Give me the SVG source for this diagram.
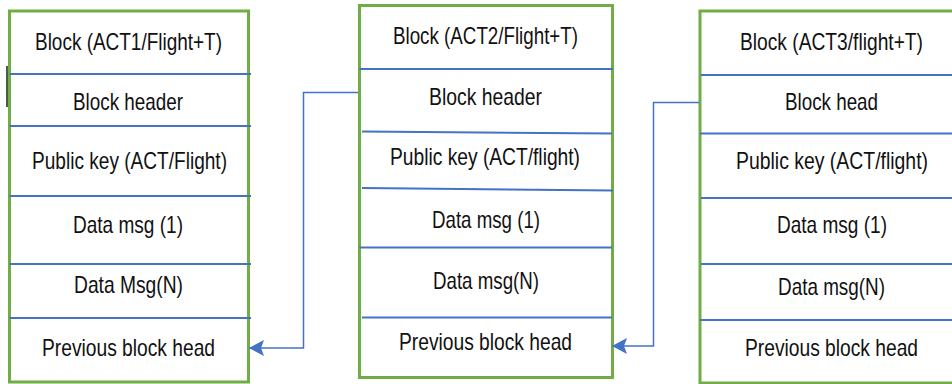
<svg xmlns="http://www.w3.org/2000/svg" width="952" height="384" viewBox="0 0 952 384">
  <style>
    .frame { fill: #ffffff; stroke: #70ad47; stroke-width: 3; }
    .edge { fill: none; stroke: #70ad47; stroke-width: 3; }
    .div { stroke: #4472c4; stroke-width: 2; fill: none; }
    .conn { stroke: #4472c4; stroke-width: 1.5; fill: none; }
    .lbl { font-family: "Liberation Sans", Arial, sans-serif; font-size: 24px; fill: #111111; text-anchor: middle; }
  </style>
  <defs>
    <!-- solid arrowhead, drawn pointing along +x so orient="auto" follows the path -->
    <marker id="arrow" viewBox="0 0 15 16" refX="14.5" refY="8" markerWidth="15" markerHeight="16" markerUnits="userSpaceOnUse" orient="auto">
      <path d="M15,8 L0,0 L3,8 L0,16 Z" fill="#4472c4"/>
    </marker>
  </defs>

  <rect width="952" height="384" fill="#ffffff"/>

  <!-- Labels use a condensed look: each is squeezed to 80% width around its centre -->

  <!-- Block 1 -->
  <g id="block1">
    <rect class="frame" x="9.5" y="11" width="239" height="371"/>
    <line x1="7" y1="66" x2="7" y2="107" stroke="#4d5a45" stroke-width="2"/>
    <line class="div" x1="9.5" y1="74" x2="251" y2="74"/>
    <line class="div" x1="9.5" y1="126" x2="251" y2="126"/>
    <line class="div" x1="9.5" y1="196" x2="251" y2="196"/>
    <line class="div" x1="9.5" y1="264" x2="251" y2="264"/>
    <line class="div" x1="9.5" y1="318" x2="251" y2="318"/>
    <text class="lbl" transform="translate(128.5 50) scale(0.8 1)" textLength="233.75" lengthAdjust="spacingAndGlyphs">Block (ACT1/Flight+T)</text>
    <text class="lbl" transform="translate(128 110) scale(0.8 1)" textLength="137.5" lengthAdjust="spacingAndGlyphs">Block header</text>
    <text class="lbl" transform="translate(129.5 169) scale(0.8 1)" textLength="243.75" lengthAdjust="spacingAndGlyphs">Public key (ACT/Flight)</text>
    <text class="lbl" transform="translate(128 233) scale(0.8 1)" textLength="137.5" lengthAdjust="spacingAndGlyphs">Data msg (1)</text>
    <text class="lbl" transform="translate(128.5 293) scale(0.8 1)" textLength="136.25" lengthAdjust="spacingAndGlyphs">Data Msg(N)</text>
    <text class="lbl" transform="translate(128.5 356) scale(0.8 1)" textLength="216.25" lengthAdjust="spacingAndGlyphs">Previous block head</text>
  </g>

  <!-- Block 2 -->
  <g id="block2">
    <rect class="frame" x="359.5" y="5.5" width="253" height="372"/>
    <line class="div" x1="359.5" y1="69" x2="613" y2="69"/>
    <line class="div" x1="362" y1="131.5" x2="612" y2="133.5"/>
    <line class="div" x1="362" y1="188" x2="613" y2="190.5"/>
    <line class="div" x1="359.5" y1="247.5" x2="612" y2="247.5"/>
    <line class="div" x1="362" y1="317.5" x2="612" y2="317.5"/>
    <text class="lbl" transform="translate(485.5 44) scale(0.8 1)" textLength="231.25" lengthAdjust="spacingAndGlyphs">Block (ACT2/Flight+T)</text>
    <text class="lbl" transform="translate(485.5 105) scale(0.8 1)" textLength="141.25" lengthAdjust="spacingAndGlyphs">Block header</text>
    <text class="lbl" transform="translate(485 165) scale(0.8 1)" textLength="237.5" lengthAdjust="spacingAndGlyphs">Public key (ACT/flight)</text>
    <text class="lbl" transform="translate(486 228) scale(0.8 1)" textLength="135" lengthAdjust="spacingAndGlyphs">Data msg (1)</text>
    <text class="lbl" transform="translate(486 289) scale(0.8 1)" textLength="132.5" lengthAdjust="spacingAndGlyphs">Data msg(N)</text>
    <text class="lbl" transform="translate(485.5 350) scale(0.8 1)" textLength="216.25" lengthAdjust="spacingAndGlyphs">Previous block head</text>
  </g>

  <!-- Block 3: its right side lies past the canvas edge, so only three sides are stroked -->
  <g id="block3">
    <rect x="700" y="11" width="252" height="372" fill="#ffffff"/>
    <path class="edge" d="M952,11 H700 V383 H952"/>
    <line class="div" x1="701" y1="75" x2="952" y2="75"/>
    <line class="div" x1="700" y1="133.5" x2="952" y2="133.5"/>
    <line class="div" x1="701" y1="198" x2="952" y2="198"/>
    <line class="div" x1="701" y1="264" x2="952" y2="264"/>
    <line class="div" x1="700" y1="320" x2="952" y2="320"/>
    <text class="lbl" transform="translate(831.5 50) scale(0.8 1)" textLength="228.75" lengthAdjust="spacingAndGlyphs">Block (ACT3/flight+T)</text>
    <text class="lbl" transform="translate(831.5 110) scale(0.8 1)" textLength="116.25" lengthAdjust="spacingAndGlyphs">Block head</text>
    <text class="lbl" transform="translate(832 169) scale(0.8 1)" textLength="240" lengthAdjust="spacingAndGlyphs">Public key (ACT/flight)</text>
    <text class="lbl" transform="translate(832 233) scale(0.8 1)" textLength="137.5" lengthAdjust="spacingAndGlyphs">Data msg (1)</text>
    <text class="lbl" transform="translate(831.5 295) scale(0.8 1)" textLength="133.75" lengthAdjust="spacingAndGlyphs">Data msg(N)</text>
    <text class="lbl" transform="translate(831.5 356) scale(0.8 1)" textLength="216.25" lengthAdjust="spacingAndGlyphs">Previous block head</text>
  </g>

  <!-- Hash links: each block header points back to the previous block -->
  <g id="connectors">
    <path class="conn" d="M358,92.5 H303.5 V348 H249.5" marker-end="url(#arrow)"/>
    <path class="conn" d="M699,102.5 H653.5 V346 H612.5" marker-end="url(#arrow)"/>
  </g>
</svg>
